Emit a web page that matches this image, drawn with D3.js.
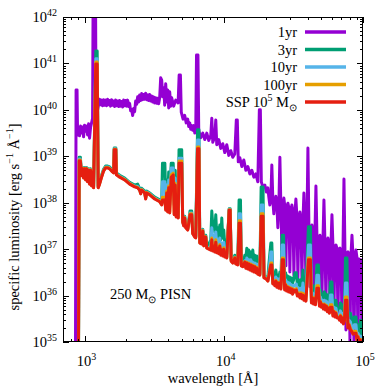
<!DOCTYPE html>
<html><head><meta charset="utf-8">
<script src="https://cdn.jsdelivr.net/npm/d3@7"></script>
<style>body{margin:0;background:#fff} text{font-family:"Liberation Serif","Times New Roman",serif;fill:#000}</style>
</head><body><svg id="c" width="390" height="390"></svg>
<script>
// ---- data (wavelength in Angstrom, log10 specific luminosity) ----
const wavelength1yr = [861,869,883,891,905,920,936,951,967,984,
1000,1017,1034,1051,1069,1086,1105,1123,1142,1151,
1200,1210,1240,
1282,1303,1325,1347,1369,1392,1416,1439,1464,1488,
1513,1538,1564,1590,1617,1644,1671,1699,1728,1757,
1786,1816,1846,1877,1908,1940,1972,2005,2039,2073,
2107,2143,2178,2215,2252,2289,2328,2367,2406,2446,
2487,2529,2571,2614,2658,2702,2747,2793,2840,2887,
2935,2984,3034,3085,3136,3189,3242,3296,3351,3407,
3464,
3522,3581,3641,3702,3763,3826,3890,3955,4021,4088,
4156,4226,4368,4516,4700,4780,4880,4950,5100,5241,
5370,5508,5600,5693,5790,5886,5980,6085,6190,6290,
6372,6522,6609,6832,7063,7301,7547,7802,8066,8201,
8338,8616,8759,8904,9204,9515,9836,10168,10510,10865,
11232,11606,11998,12301,12506,12712,13032,13474,13930,14400,
14885,15385,15900,16440,16990,17560,18010,18310,18610,19080,
19720,20220,
20730,21070,21420,21780,22140,22520,22890,23270,23660,24060,
24460,24870,25290,25710,26150,26580,27020,27470,27920,28400,
28870,29350,29840,30340,30850,31370,31890,32420,32960,33510,
34070,34640,35230,35810,36410,37020,37630,38260,38900,39550,
40210,40890,41560,42270,42970,43690,44420,45150,45910,46680,
47460,48250,49050,49870,50700,51550,52410,53290,54170,55080,
56000,56940,57890,58860,59840,60840,61850,62890,63930,65010,
66090,67200,68310,69460,70610,71800,72990,74220,75440,76720,
77990,79300,80620,81970,83330,84740,86140,87590,89040,90550,
92040,93600,95150,96750,98350,100000];
const lum1yr = [34.9,40.43,40.43,39.46,39.61,39.44,39.65,39.50,39.63,39.42,
39.67,39.54,39.65,39.46,39.70,39.39,39.63,39.72,39.82,42.15,
42.15,39.78,40.00,
40.23,40.11,40.21,40.09,40.22,40.10,40.21,40.09,40.23,40.11,
40.20,40.08,40.22,40.10,40.19,40.07,40.21,40.09,40.19,40.07,
40.20,40.08,40.18,40.06,40.21,40.09,40.20,40.08,40.21,40.07,
40.14,39.98,40.01,39.88,40.03,39.96,40.19,40.12,40.28,40.17,
40.32,40.20,40.35,40.22,40.33,40.23,40.36,40.22,40.32,40.20,
40.33,40.19,40.30,40.17,40.28,40.15,40.26,40.14,40.25,40.13,
40.26,
40.69,40.64,40.28,40.47,40.10,40.56,40.17,40.43,40.04,40.39,
40.08,40.26,40.08,40.21,40.15,40.75,40.75,39.95,39.80,39.88,
39.72,39.80,39.64,39.72,39.58,39.66,39.56,39.66,39.50,39.58,
41.18,41.18,39.55,39.40,39.50,39.36,39.50,39.34,39.45,39.82,
39.30,39.42,39.78,39.25,39.36,39.17,39.27,39.08,39.25,39.02,
39.12,38.98,39.05,39.78,39.78,38.88,38.97,38.78,38.92,38.70,
38.78,38.62,38.70,38.55,38.62,38.45,40.00,40.00,38.45,38.34,
38.38,38.23,
38.32,38.12,37.95,38.08,38.81,38.04,37.76,37.99,38.14,37.97,
37.46,37.95,38.98,37.93,36.98,37.93,38.10,37.91,36.64,37.93,
37.99,37.89,36.51,37.84,37.95,37.80,36.44,37.76,38.08,37.71,
36.38,37.67,37.80,37.63,36.34,37.58,38.21,37.54,36.27,37.50,
39.18,37.45,36.19,37.41,37.52,37.37,36.10,37.32,38.36,37.28,
36.01,37.24,37.30,37.20,35.95,37.17,38.06,37.15,35.86,37.13,
37.24,37.11,35.80,37.09,37.74,37.07,35.65,37.05,37.09,37.02,
35.52,37.00,37.02,36.98,35.43,36.96,38.51,36.94,35.26,36.92,
36.94,36.90,35.00,36.87,37.30,36.85,34.94,36.83,36.98,36.81,
34.94,36.79,36.72,36.77,34.94,36.70];

const wavelengthSSP = [905,915,933,945,951,967,984,1000,1017,1034,
1051,1069,1086,1105,1123,1142,1161,1204,1232,1253,
1282,1325,1369,1416,1464,1513,1564,1617,1633,1677,
1693,1786,1941,2107,2289,2406,2487,2529,2571,2702,
2747,2793,2935,3189,3464,3581,3628,3774,3826,3890,
3955,4021,4088,4191,4332,4405,4479,4555,4629,4706,
4769,4987,5070,5154,5241,5329,5508,5722,5886,5984,
6185,6290,6479,6632,6720,6948,7063,7182,7422,7547,
7802,8066,8201,8338,8478,8616,8759,8904,9053,9204,
9359,9515,9674,9836,10000,10168,10338,10510,10930,11110,
11300,11606,12000,12200,12600,12880,13180,13360,13700,14160,
14400,14640,14880,15130,15385,15640,15900,16160,16440,16710,
16990,17270,17560,18155,18550,19140,19450,20100,20730,21070,
21780,22140,22520,22890,23270,23660,24060,24460,24870,25290,
25710,26270,26890,27360,27800,28260,28730,29210,29700,30200,
30700,31210,31740,32420,33190,33750,34530,35230,35840,36410,
37020,37630,38260,38900,40540,41910,42620,43330,44060,44790,
45530,46680,47860,48650,49460,50280,51120,51970,52830,53710,
54610,55510,56430,57370,58330,59840,60840,61850,62880,63930,
65010,66640,67750,68880,70020,71190,72380,73590,74810,76720,
77990,79290,81280,83330,84750,86620,89040,90560,92040,93580,
95940,97540,100000];
const lum3yr = [34.9,38.98,38.98,38.73,38.61,38.76,38.56,38.76,38.52,38.76,
38.48,38.73,38.43,38.73,38.39,38.69,38.35,41.27,41.27,38.36,
38.44,38.59,38.72,38.79,38.79,38.77,38.72,38.68,39.18,39.18,
38.64,38.59,38.53,38.44,38.38,38.40,38.31,38.23,38.31,38.25,
38.12,38.25,38.21,38.12,38.06,37.99,38.85,38.85,38.17,38.49,
38.06,38.66,38.17,38.85,38.85,38.17,38.70,37.95,37.92,37.71,
39.14,39.14,37.62,37.54,37.71,37.50,37.45,37.82,37.82,37.37,
37.30,37.28,39.57,39.57,37.17,37.15,37.43,37.11,37.30,37.06,
37.11,37.20,37.82,37.52,37.58,37.37,37.74,37.30,37.46,37.24,
37.52,37.20,37.67,37.24,37.41,37.09,37.20,36.90,37.87,37.87,
36.78,36.74,36.87,36.72,36.70,38.06,38.06,36.68,36.66,36.87,
36.81,37.02,36.81,36.98,36.81,36.94,36.77,36.98,36.72,36.87,
36.70,36.85,36.55,36.48,38.34,38.34,36.42,36.40,36.40,36.66,
37.13,37.13,36.29,36.51,36.42,36.55,36.38,36.44,36.38,36.51,
36.34,37.30,37.30,36.38,36.49,36.34,36.42,36.31,36.40,36.29,
36.38,36.27,36.34,36.49,36.49,36.23,36.34,36.18,36.34,36.23,
36.55,36.23,36.29,36.16,37.48,37.48,36.08,36.21,36.08,36.21,
36.03,36.66,36.66,36.01,36.12,35.99,36.03,35.95,36.08,35.95,
36.03,35.90,35.99,35.90,36.29,36.29,35.80,35.90,35.77,35.90,
35.69,35.69,35.71,35.84,35.67,35.80,35.62,35.75,36.81,36.81,
35.54,35.62,35.62,35.47,35.39,35.54,35.54,35.26,35.37,35.22,
35.47,35.13,35.09];
const lum10yr = [34.9,38.94,38.94,38.72,38.60,38.75,38.55,38.75,38.51,38.75,
38.47,38.72,38.42,38.72,38.38,38.68,38.34,41.10,41.10,38.34,
38.42,38.57,38.70,38.77,38.77,38.75,38.70,38.66,39.16,39.16,
38.62,38.57,38.51,38.42,38.36,38.35,38.29,38.21,38.29,38.23,
38.10,38.23,38.19,38.10,38.04,37.97,38.45,38.45,37.95,38.38,
37.88,38.49,37.95,38.75,38.75,37.95,38.53,37.80,37.90,37.69,
38.96,38.96,37.60,37.52,37.69,37.48,37.43,37.78,37.78,37.35,
37.28,37.26,39.35,39.35,37.15,37.13,37.41,37.09,37.28,37.04,
37.03,37.07,37.46,37.20,37.30,37.15,37.37,37.09,37.20,37.07,
37.24,37.02,37.13,36.98,37.15,36.92,36.98,36.84,37.86,37.86,
36.76,36.72,36.83,36.70,36.68,37.76,37.76,36.66,36.64,36.75,
36.66,36.81,36.66,36.77,36.64,36.77,36.62,36.72,36.59,36.70,
36.55,36.68,36.49,36.46,37.95,37.95,36.40,36.38,36.34,36.51,
36.94,36.94,36.27,36.38,36.29,36.40,36.29,36.36,36.25,36.36,
36.23,37.09,37.09,36.23,36.34,36.21,36.29,36.18,36.27,36.16,
36.23,36.12,36.21,36.23,36.25,36.08,36.16,36.03,36.16,36.03,
36.27,36.01,36.12,35.99,37.09,37.09,35.93,36.06,35.93,36.03,
35.90,36.44,36.44,35.86,35.97,35.84,35.90,35.82,35.90,35.80,
35.88,35.75,35.84,35.73,36.01,36.01,35.65,35.75,35.62,35.73,
35.60,35.58,35.56,35.67,35.52,35.62,35.47,35.58,36.27,36.27,
35.39,35.47,35.43,35.30,35.26,35.37,35.37,35.13,35.19,35.09,
35.13,35.00,35.00];
const lum100yr = [34.9,38.92,38.92,38.71,38.59,38.74,38.54,38.74,38.50,38.74,
38.46,38.71,38.41,38.71,38.37,38.67,38.33,41.03,41.03,38.33,
38.41,38.56,38.69,38.76,38.76,38.74,38.69,38.65,39.15,39.15,
38.61,38.56,38.50,38.41,38.35,38.33,38.28,38.20,38.28,38.22,
38.09,38.22,38.18,38.09,38.03,37.96,38.12,38.12,37.86,38.25,
37.81,38.36,37.79,38.60,38.64,37.75,38.42,37.70,37.89,37.68,
38.90,38.90,37.59,37.51,37.68,37.47,37.42,37.76,37.76,37.34,
37.27,37.25,39.20,39.20,37.14,37.12,37.40,37.08,37.27,37.03,
37.01,37.00,37.24,36.98,37.08,36.96,37.20,36.94,37.05,36.92,
37.10,36.89,37.00,36.87,37.03,36.85,36.92,36.82,37.85,37.85,
36.75,36.71,36.82,36.69,36.67,37.61,37.61,36.65,36.63,36.73,
36.61,36.72,36.59,36.70,36.57,36.68,36.55,36.66,36.53,36.64,
36.51,36.61,36.47,36.45,37.76,37.76,36.39,36.37,36.32,36.44,
36.70,36.70,36.26,36.31,36.23,36.33,36.20,36.29,36.18,36.29,
36.16,36.81,36.81,36.14,36.25,36.12,36.20,36.10,36.18,36.08,
36.16,36.05,36.14,36.11,36.15,36.01,36.06,35.97,36.06,35.95,
36.05,35.92,36.02,35.90,36.81,36.81,35.86,35.97,35.84,35.95,
35.82,36.21,36.21,35.79,35.88,35.77,35.82,35.73,35.82,35.71,
35.79,35.67,35.75,35.64,35.80,35.80,35.58,35.67,35.56,35.64,
35.54,35.54,35.49,35.58,35.45,35.54,35.41,35.49,35.97,35.97,
35.32,35.39,35.29,35.24,35.19,35.23,35.23,35.06,35.13,35.02,
35.06,34.95,34.93];
const lumSSP = [34.9,38.90,38.90,38.70,38.58,38.73,38.53,38.73,38.49,38.73,
38.45,38.70,38.40,38.70,38.36,38.66,38.32,40.99,40.99,38.32,
38.40,38.55,38.68,38.75,38.75,38.73,38.68,38.64,39.14,39.14,
38.60,38.55,38.49,38.40,38.34,38.32,38.27,38.19,38.27,38.21,
38.08,38.21,38.17,38.08,38.02,37.95,38.06,38.06,37.84,38.21,
37.80,38.32,37.78,38.55,38.60,37.74,38.38,37.69,37.88,37.67,
38.85,38.85,37.58,37.50,37.67,37.46,37.41,37.74,37.74,37.33,
37.26,37.24,39.16,39.16,37.13,37.11,37.39,37.07,37.26,37.02,
37.00,36.98,37.20,36.96,37.05,36.94,37.15,36.92,37.02,36.90,
37.07,36.87,36.98,36.85,37.00,36.83,36.90,36.81,37.84,37.84,
36.74,36.70,36.81,36.68,36.66,37.56,37.56,36.64,36.62,36.72,
36.59,36.70,36.57,36.68,36.55,36.66,36.53,36.64,36.51,36.62,
36.49,36.59,36.46,36.44,37.71,37.71,36.38,36.36,36.31,36.42,
36.66,36.66,36.25,36.29,36.21,36.31,36.18,36.27,36.16,36.27,
36.14,36.77,36.77,36.12,36.23,36.10,36.18,36.08,36.16,36.06,
36.14,36.03,36.12,36.08,36.12,35.99,36.03,35.95,36.03,35.93,
36.01,35.90,35.99,35.88,36.77,36.77,35.84,35.95,35.82,35.93,
35.80,36.16,36.16,35.77,35.86,35.75,35.80,35.71,35.80,35.69,
35.77,35.65,35.73,35.62,35.75,35.75,35.56,35.65,35.54,35.62,
35.52,35.52,35.47,35.56,35.43,35.52,35.39,35.47,35.90,35.90,
35.30,35.37,35.26,35.22,35.17,35.19,35.19,35.04,35.11,35.00,
35.04,34.93,34.91];

const seriesLabels = ["1yr","3yr","10yr","100yr","SSP"];
const seriesColors = ["#9400d3","#009e73","#56b4e9","#e69f00","#e51e10"];
const xMajorTicks = [1e3,1e4,1e5];
const yMajorTicks = [1e35,1e36,1e37,1e38,1e39,1e40,1e41,1e42];

// ---- drawing ----
const svg = d3.select("#c");
const L = 63, R = 363, T = 17, B = 342;
const x = d3.scaleLog().domain([700, 1e5]).range([L, R]);
const y = d3.scaleLog().domain([1e35, 1e42]).range([B, T]);

svg.append("defs").append("clipPath").attr("id","clip")
  .append("rect").attr("x",L).attr("y",T).attr("width",R-L).attr("height",B-T);

const line = d3.line().x(d=>x(d[0])).y(d=>y(Math.pow(10,d[1])));
const series = [
  {w: wavelength1yr, v: lum1yr},
  {w: wavelengthSSP, v: lum3yr},
  {w: wavelengthSSP, v: lum10yr},
  {w: wavelengthSSP, v: lum100yr},
  {w: wavelengthSSP, v: lumSSP}
];
const gp = svg.append("g").attr("clip-path","url(#clip)");
series.forEach((s,i)=>{
  gp.append("path").datum(s.w.map((w,j)=>[w,s.v[j]]))
    .attr("d", line).attr("fill","none")
    .attr("stroke", seriesColors[i]).attr("stroke-width",3)
    .attr("stroke-linejoin","round");
});

// ticks
const gt = svg.append("g").attr("stroke","#000").attr("stroke-width",1);
function xTick(v, len){
  const px = Math.round(x(v))+0.5;
  gt.append("line").attr("x1",px).attr("x2",px).attr("y1",B).attr("y2",B-len);
  gt.append("line").attr("x1",px).attr("x2",px).attr("y1",T).attr("y2",T+len);
}
function yTick(v, len){
  const py = Math.round(y(v))+0.5;
  gt.append("line").attr("x1",L).attr("x2",L+len).attr("y1",py).attr("y2",py);
  gt.append("line").attr("x1",R).attr("x2",R-len).attr("y1",py).attr("y2",py);
}
for (let e=2; e<5; e++) for (let m=1; m<10; m++){ const v=m*Math.pow(10,e); if (v>=700 && v<=1e5) xTick(v, m===1?6:3); }
xTick(1e5,6);
for (let e=35; e<42; e++) for (let m=1; m<10; m++) yTick(m*Math.pow(10,e), m===1?6:3);
yTick(1e42,6);

svg.append("rect").attr("x",L+0.5).attr("y",T+0.5).attr("width",R-L-1).attr("height",B-T-1)
  .attr("fill","none").attr("stroke","#000").attr("stroke-width",1);

// tick labels
const fs = 14.5, fsSup = 10;
yMajorTicks.forEach(v=>{
  const t = svg.append("text").attr("x",57).attr("y",y(v)+5).attr("text-anchor","end").attr("font-size",fs);
  t.append("tspan").text("10");
  t.append("tspan").attr("dy",-6).attr("font-size",fsSup).text(Math.round(Math.log10(v)));
});
xMajorTicks.forEach(v=>{
  const t = svg.append("text").attr("x",x(v)+2).attr("y",366).attr("text-anchor","middle").attr("font-size",fs);
  t.append("tspan").text("10");
  t.append("tspan").attr("dy",-6).attr("font-size",fsSup).text(Math.round(Math.log10(v)));
});

// axis titles
svg.append("text").attr("x",(L+R)/2).attr("y",383).attr("text-anchor","middle").attr("font-size",fs).text("wavelength [Å]");
const yl = svg.append("text").attr("transform","translate(19,217) rotate(-90)").attr("text-anchor","middle").attr("font-size",fs);
yl.append("tspan").text("specific luminosity [erg s");
yl.append("tspan").attr("dy",-6).attr("font-size",fsSup).text("−1");
yl.append("tspan").attr("dy",6).text(" Å");
yl.append("tspan").attr("dy",-6).attr("font-size",fsSup).text("−1");
yl.append("tspan").attr("dy",6).text("]");

// legend
const legY = [32,49.5,67,84.5,102];
seriesLabels.forEach((lab,i)=>{
  svg.append("line").attr("x1",305).attr("x2",346).attr("y1",legY[i]).attr("y2",legY[i])
    .attr("stroke",seriesColors[i]).attr("stroke-width",3.5);
  const t = svg.append("text").attr("x",297).attr("y",legY[i]+5).attr("text-anchor","end").attr("font-size",fs);
  if (i<4) t.text(lab);
  else {
    t.append("tspan").text("SSP 10");
    t.append("tspan").attr("dy",-6).attr("font-size",fsSup).text("5");
    t.append("tspan").attr("dy",6).text(" M");
    t.append("tspan").attr("dy",4).attr("font-size",fsSup).text("⊙");
  }
});

// annotation
const an = svg.append("text").attr("x",110).attr("y",299).attr("font-size",fs);
an.append("tspan").text("250 M");
an.append("tspan").attr("dy",4).attr("font-size",fsSup).text("⊙");
an.append("tspan").attr("dy",-4).text(" PISN");
</script></body></html>
